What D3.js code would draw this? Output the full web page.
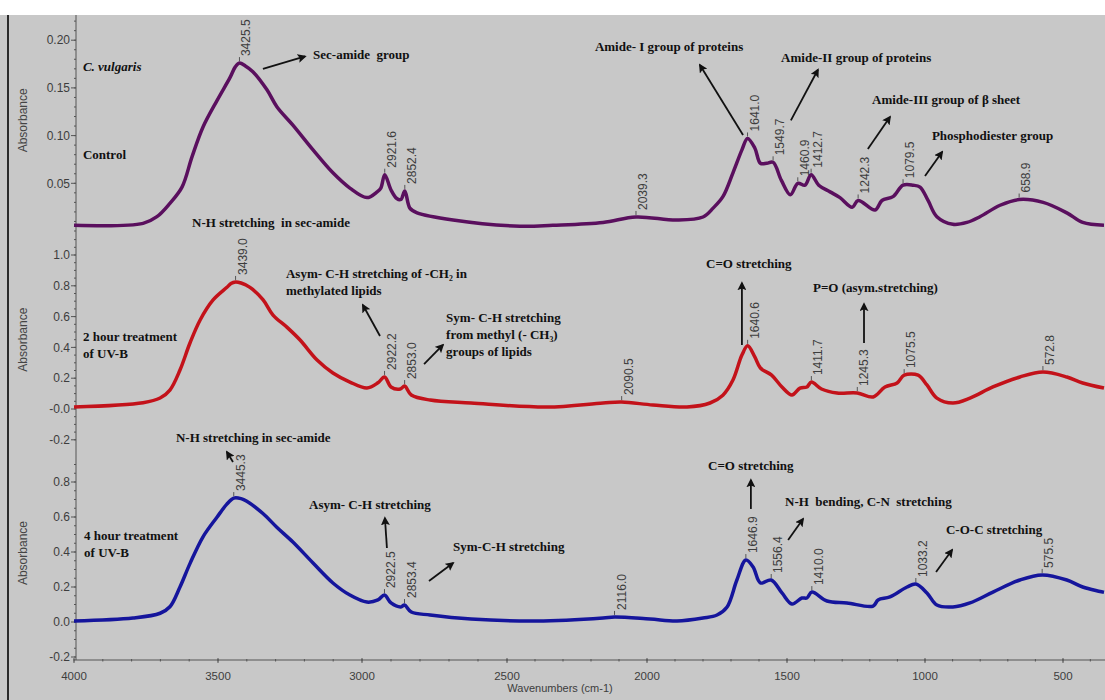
<!DOCTYPE html>
<html><head><meta charset="utf-8">
<script src="https://cdn.jsdelivr.net/npm/d3@7"></script>
<style>
body{margin:0;background:#fff}
svg{display:block}
text{white-space:pre}
</style>
</head><body>
<svg id="chart" width="1105" height="700"></svg>
<script>
// ---------- DATA ----------
const controlWn  = [4000,3760,3712,3667,3625,3590,3552,3503,3458,3440,3425.5,3405,3379,3330,3295,3240,3170,3101,3042,2983,2948,2935,2921.6,2900,2880,2866,2852.4,2835,2810,2686,2454,2336,2157,2039.3,1893,1800,1764,1729,1693,1661,1641.0,1615,1595,1572,1549.7,1520,1488,1460.9,1435,1412.7,1385,1344,1308,1264,1242.3,1181,1156,1116,1079.5,1043,1018,989,957,899,848,801,728,658.9,572,486,428,350];
const controlAbs = [0.006,0.008,0.015,0.029,0.046,0.078,0.109,0.137,0.161,0.172,0.176,0.173,0.167,0.148,0.130,0.111,0.085,0.061,0.045,0.035,0.041,0.045,0.059,0.043,0.034,0.033,0.042,0.024,0.019,0.0115,0.005,0.006,0.009,0.0147,0.0115,0.0147,0.024,0.036,0.061,0.085,0.097,0.087,0.071,0.071,0.072,0.053,0.038,0.050,0.048,0.059,0.048,0.041,0.035,0.025,0.032,0.022,0.032,0.036,0.048,0.048,0.046,0.032,0.015,0.007,0.009,0.015,0.027,0.033,0.030,0.019,0.009,0.006];

const uv2hWn  = [4000,3760,3701,3667,3632,3597,3562,3517,3469,3455,3439.0,3420,3389,3344,3309,3260,3215,3156,3101,3042,2983,2945,2922.2,2900,2868,2853.0,2830,2765,2624,2357,2157,2090.5,1979,1857,1775,1729,1693,1661,1640.6,1615,1595,1555,1518,1482,1453,1428,1411.7,1375,1319,1245.3,1188,1145,1101,1075.5,1025,993,957,899,837,754,656,572.8,486,428,350];
const uv2hAbs = [0.013,0.041,0.071,0.123,0.253,0.43,0.578,0.708,0.79,0.815,0.825,0.818,0.79,0.71,0.61,0.53,0.448,0.318,0.234,0.175,0.136,0.17,0.208,0.143,0.13,0.149,0.091,0.058,0.039,0.013,0.039,0.045,0.026,0.013,0.039,0.09,0.188,0.35,0.41,0.338,0.266,0.22,0.143,0.091,0.136,0.143,0.175,0.130,0.104,0.104,0.078,0.143,0.169,0.22,0.22,0.156,0.071,0.039,0.071,0.143,0.208,0.24,0.208,0.169,0.136];

const uv4hWn  = [4000,3795,3701,3667,3632,3597,3552,3503,3470,3445.3,3420,3400,3344,3295,3240,3170,3101,3042,2983,2945,2922.5,2900,2866,2853.4,2830,2765,2624,2393,2157,2116.0,1989,1893,1800,1750,1714,1679,1646.9,1621,1595,1556.4,1518,1482,1446,1428,1410.0,1355,1283,1188,1170,1127,1065,1033.2,993,957,899,837,754,656,575.5,486,428,350];
const uv4hAbs = [0.006,0.023,0.05,0.087,0.2,0.335,0.487,0.6,0.672,0.708,0.705,0.69,0.62,0.54,0.457,0.337,0.223,0.154,0.114,0.126,0.154,0.109,0.086,0.097,0.057,0.04,0.017,0.006,0.023,0.029,0.017,0.006,0.023,0.04,0.086,0.24,0.354,0.314,0.223,0.24,0.166,0.103,0.137,0.137,0.171,0.12,0.109,0.091,0.126,0.143,0.2,0.217,0.166,0.097,0.086,0.109,0.171,0.24,0.269,0.24,0.2,0.17];

const controlPeaks = [3425.5,2921.6,2852.4,2039.3,1641.0,1549.7,1460.9,1412.7,1242.3,1079.5,658.9];
const uv2hPeaks    = [3439.0,2922.2,2853.0,2090.5,1640.6,1411.7,1245.3,1075.5,572.8];
const uv4hPeaks    = [3445.3,2922.5,2853.4,2116.0,1646.9,1556.4,1410.0,1033.2,575.5];

const xTicks = [4000,3500,3000,2500,2000,1500,1000,500];
const yTicksControl = [0.05,0.10,0.15,0.20];
const yTickLabelsControl = ["0.05","0.10","0.15","0.20"];
const yTicks2h = [-0.2,0.0,0.2,0.4,0.6,0.8,1.0];
const yTickLabels2h = ["-0.2","-0.0","0.2","0.4","0.6","0.8","1.0"];
const yTicks4h = [-0.2,0.0,0.2,0.4,0.6,0.8];
const yTickLabels4h = ["-0.2","0.0","0.2","0.4","0.6","0.8"];

// annotations in data coordinates (panel, wavenumber, absorbance)
const notes = [
  {p:0, w:3969, a:0.172, lines:["C. vulgaris"], italic:true},
  {p:0, w:3969, a:0.080, lines:["Control"]},
  {p:0, w:3170, a:0.1855, lines:["Sec-amide  group"]},
  {p:0, w:3590, a:0.0084, lines:["N-H stretching  in sec-amide"]},
  {p:0, w:2186, a:0.193, lines:["Amide- I group of proteins"]},
  {p:0, w:1521, a:0.182, lines:["Amide-II group of proteins"]},
  {p:0, w:1192, a:0.138, lines:["Amide-III group of \u03b2 sheet"]},
  {p:0, w:975,  a:0.1006, lines:["Phosphodiester group"]},
  {p:1, w:3969, a:0.468, lines:["2 hour treatment","of UV-B"]},
  {p:1, w:3264, a:0.883, lines:["Asym- C-H stretching of -CH\u2082 in","methylated lipids"]},
  {p:1, w:2710, a:0.597, lines:["Sym- C-H stretching","from methyl (- CH\u2083)","groups of lipids"]},
  {p:1, w:1789, a:0.948, lines:["C=O stretching"]},
  {p:1, w:1406, a:0.792, lines:["P=O (asym.stretching)"]},
  {p:2, w:3646, a:1.057, lines:["N-H stretching in sec-amide"]},
  {p:2, w:3965, a:0.497, lines:["4 hour treatment","of UV-B"]},
  {p:2, w:3184, a:0.669, lines:["Asym- C-H stretching"]},
  {p:2, w:2686, a:0.429, lines:["Sym-C-H stretching"]},
  {p:2, w:1782, a:0.897, lines:["C=O stretching"]},
  {p:2, w:1507, a:0.686, lines:["N-H  bending, C-N  stretching"]},
  {p:2, w:924,  a:0.526, lines:["C-O-C stretching"]}
];
const arrows = [
  {p:0, w0:3344, a0:0.170, w1:3198, a1:0.183},
  {p:0, w0:1657, a0:0.1006, w1:1811, a1:0.174},
  {p:0, w0:1486, a0:0.116, w1:1388, a1:0.169},
  {p:0, w0:1207, a0:0.086, w1:1127, a1:0.1195},
  {p:0, w0:1000, a0:0.0577, w1:938, a1:0.0828},
  {p:1, w0:2938, a0:0.474, w1:2997, a1:0.675},
  {p:1, w0:2786, a0:0.292, w1:2721, a1:0.416},
  {p:1, w0:1661, a0:0.416, w1:1661, a1:0.818},
  {p:1, w0:1221, a0:0.429, w1:1221, a1:0.682},
  {p:2, w0:3448, a0:0.914, w1:3469, a1:0.971},
  {p:2, w0:2914, a0:0.423, w1:2921, a1:0.594},
  {p:2, w0:2769, a0:0.234, w1:2686, a1:0.337},
  {p:2, w0:1629, a0:0.646, w1:1629, a1:0.811},
  {p:2, w0:1496, a0:0.469, w1:1442, a1:0.589},
  {p:2, w0:960,  a0:0.286, w1:902, a1:0.411}
];

// ---------- LAYOUT ----------
const W = 1105, H = 700;
const svg = d3.select("#chart");
const axisColor = "#555", textColor = "#3d3d3d";
const sans = "'Liberation Sans', Arial, sans-serif";
const serif = "'Liberation Serif', 'Times New Roman', serif";

svg.append("rect").attr("width",W).attr("height",H).attr("fill","#fff");
svg.append("rect").attr("x",0).attr("y",15).attr("width",W).attr("height",H-15).attr("fill","#c8c8c8");
svg.append("rect").attr("x",7).attr("y",15).attr("width",2).attr("height",H-15).attr("fill","#2a2a2a");

const x = d3.scaleLinear()
  .domain([4000,3500,3000,2500,2000,1500,1000,500,350])
  .range([74,218,362,507,647,787,925,1063,1104]);

const yScales = [
  d3.scaleLinear().domain([0,0.2]).range([231,40.2]),
  d3.scaleLinear().domain([0,1.0]).range([409,255]),
  d3.scaleLinear().domain([0,0.8]).range([622,482])
];

const axisX = 76, xAxisY = 660;

svg.append("line").attr("x1",axisX).attr("x2",axisX).attr("y1",15).attr("y2",xAxisY)
  .attr("stroke",axisColor).attr("stroke-width",1);

const yAxes = [
  {ticks:yTicksControl, labels:yTickLabelsControl, minorStep:0.01, minorRange:[0,0.22]},
  {ticks:yTicks2h, labels:yTickLabels2h, minorStep:0.05, minorRange:[-0.2,1.1]},
  {ticks:yTicks4h, labels:yTickLabels4h, minorStep:0.05, minorRange:[-0.2,0.9]}
];
yAxes.forEach((ax,i)=>{
  const ys = yScales[i];
  const g = svg.append("g");
  const minors = d3.range(Math.round(ax.minorRange[0]/ax.minorStep), Math.round(ax.minorRange[1]/ax.minorStep)+1)
    .map(k=>k*ax.minorStep);
  g.selectAll("line.minor").data(minors).join("line")
    .attr("x1",axisX-2).attr("x2",axisX).attr("y1",d=>ys(d)).attr("y2",d=>ys(d))
    .attr("stroke",axisColor).attr("stroke-width",1);
  g.selectAll("line.major").data(ax.ticks).join("line")
    .attr("x1",axisX-5).attr("x2",axisX).attr("y1",d=>ys(d)).attr("y2",d=>ys(d))
    .attr("stroke",axisColor).attr("stroke-width",1);
  g.selectAll("text").data(ax.ticks).join("text")
    .attr("x",axisX-6).attr("y",d=>ys(d)).attr("dy","0.35em")
    .attr("text-anchor","end").attr("font-family",sans).attr("font-size",12)
    .attr("fill",textColor).text((d,k)=>ax.labels[k]);
});

[0.116,0.45,0.394].forEach((a,i)=>{
  const yy = yScales[i](a);
  svg.append("text").attr("transform",`translate(27,${yy}) rotate(-90)`)
    .attr("text-anchor","middle").attr("font-family",sans).attr("font-size",12)
    .attr("fill","#444").text("Absorbance");
});

const xa = svg.append("g");
xa.append("line").attr("x1",x(4000)).attr("x2",W).attr("y1",xAxisY).attr("y2",xAxisY)
  .attr("stroke",axisColor).attr("stroke-width",1);
const xMinor = d3.range(4000,349,-100);
xa.selectAll("line.mi").data(xMinor).join("line").attr("class","mi")
  .attr("x1",d=>x(d)).attr("x2",d=>x(d)).attr("y1",xAxisY-1).attr("y2",xAxisY+1.5)
  .attr("stroke",axisColor);
xa.selectAll("line.ma").data(xTicks).join("line").attr("class","ma")
  .attr("x1",d=>x(d)).attr("x2",d=>x(d)).attr("y1",xAxisY-2).attr("y2",xAxisY+3)
  .attr("stroke",axisColor);
xa.selectAll("text").data(xTicks).join("text")
  .attr("x",d=>x(d)).attr("y",xAxisY+20).attr("text-anchor","middle")
  .attr("font-family",sans).attr("font-size",11.5).attr("fill",textColor).text(d=>d);
svg.append("text").attr("x",560).attr("y",692).attr("text-anchor","middle")
  .attr("font-family",sans).attr("font-size",11).attr("fill",textColor).text("Wavenumbers (cm-1)");

const series = [
  {wn:controlWn, ab:controlAbs, peaks:controlPeaks, color:"#5a0f5e"},
  {wn:uv2hWn, ab:uv2hAbs, peaks:uv2hPeaks, color:"#c3121a"},
  {wn:uv4hWn, ab:uv4hAbs, peaks:uv4hPeaks, color:"#15159c"}
];
series.forEach((s,i)=>{
  const ys = yScales[i];
  const pts = s.wn.map((w,k)=>[w,s.ab[k]]);
  const line = d3.line().x(d=>x(d[0])).y(d=>ys(d[1])).curve(d3.curveCatmullRom.alpha(0.5));
  svg.append("path").datum(pts).attr("d",line).attr("fill","none")
    .attr("stroke",s.color).attr("stroke-width",3.5).attr("stroke-linejoin","round");
  const g = svg.append("g");
  s.peaks.forEach(p=>{
    const k = d3.minIndex(s.wn, w=>Math.abs(w-p));
    const px = x(p), py = ys(s.ab[k]);
    g.append("line").attr("x1",px).attr("x2",px).attr("y1",py-2).attr("y2",py-6)
      .attr("stroke","#555").attr("stroke-width",1);
    g.append("text").attr("transform",`translate(${px+11},${py-7}) rotate(-90)`)
      .attr("font-family",sans).attr("font-size",12).attr("fill",textColor)
      .text(p.toFixed(1));
  });
});

const defs = svg.append("defs");
defs.append("marker").attr("id","ah").attr("viewBox","0 0 10 10").attr("refX",8).attr("refY",5)
  .attr("markerWidth",9).attr("markerHeight",9).attr("markerUnits","userSpaceOnUse").attr("orient","auto")
  .append("path").attr("d","M0,0 L10,5 L0,10 L2,5 z").attr("fill","#111");
arrows.forEach(a=>{
  const ys = yScales[a.p];
  svg.append("line").attr("x1",x(a.w0)).attr("y1",ys(a.a0)).attr("x2",x(a.w1)).attr("y2",ys(a.a1))
    .attr("stroke","#111").attr("stroke-width",1.8).attr("marker-end","url(#ah)");
});

notes.forEach(n=>{
  const ys = yScales[n.p];
  const t = svg.append("text").attr("x",x(n.w)).attr("y",ys(n.a)+4.5)
    .attr("font-family",serif).attr("font-weight","bold").attr("font-size",13)
    .attr("font-style",n.italic?"italic":"normal").attr("fill","#111");
  n.lines.forEach((ln,k)=>{
    t.append("tspan").attr("x",x(n.w)).attr("dy",k===0?0:17).text(ln);
  });
});
</script>
</body></html>
